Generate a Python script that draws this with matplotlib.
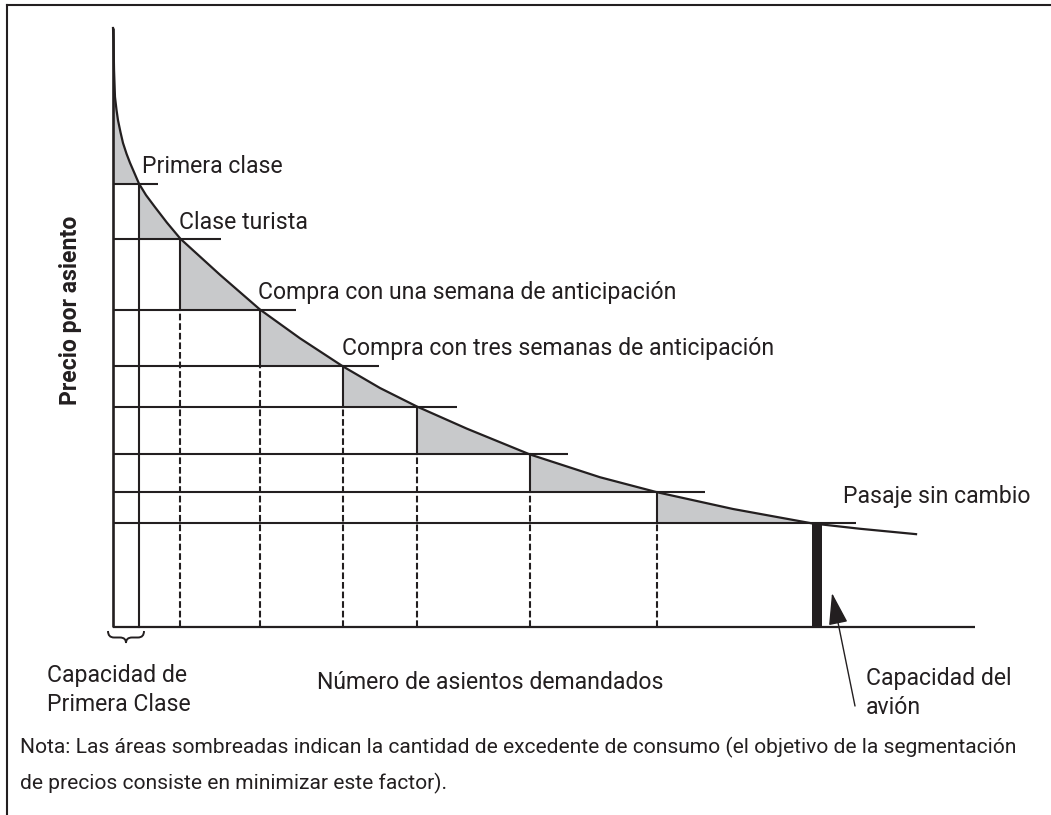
import numpy as np
import matplotlib
matplotlib.use("Agg")
import matplotlib.pyplot as plt
from matplotlib.path import Path
from matplotlib.patches import PathPatch
from matplotlib.lines import Line2D

# ---------------- data (quantity 0-100, price 0-100) ----------------
curve_q = [0.00, 0.06, 0.12, 0.23, 0.41, 0.58, 0.87, 1.16, 1.57, 1.97, 3.02,
           3.83, 4.87, 6.26, 7.83, 12.41, 17.05, 21.69, 26.68, 30.97, 35.27,
           41.07, 48.38, 56.50, 63.11, 71.93, 81.09, 86.66, 93.16]
curve_p = [100.0, 98.0, 93.0, 88.5, 86.3, 84.6, 82.6, 80.8, 79.0, 77.5, 74.0,
           72.1, 70.1, 67.5, 64.8, 58.8, 53.0, 48.2, 43.5, 39.9, 36.8,
           33.1, 28.8, 25.0, 22.5, 19.7, 17.3, 16.4, 15.5]

segment_names = ["Primera clase", "Clase turista",
                 "Compra con una semana de anticipación",
                 "Compra con tres semanas de anticipación",
                 "", "", "", "Pasaje sin cambio"]
break_q = [3.02, 7.83, 17.05, 26.68, 35.27, 48.38, 63.11, 81.09]
price_levels = [74.0, 64.8, 53.0, 43.5, 36.8, 28.8, 22.5, 17.3]
level_line_end_q = [5.22, 12.53, 21.23, 30.86, 39.91, 52.78, 68.68, 86.19]
q_axis_max = 100
p_axis_max = 100
capacity_bar_width = 1.2

x_label = "Número de asientos demandados"
y_label = "Precio por asiento"
first_class_label = ["Capacidad de", "Primera Clase"]
plane_label = ["Capacidad del", "avión"]
note = ["Nota: Las áreas sombreadas indican la cantidad de excedente de consumo (el objetivo de la segmentación",
        "de precios consiste en minimizar este factor)."]

# ---------------- style ----------------
INK = "#231f20"
SHADE = "#c8c9cb"
FONT = "Roboto"
FS = 16.6
FS_NOTE = 15.1
plt.rcParams['font.family'] = [FONT, 'DejaVu Sans']

W, H = 1051, 815
X0, Y0 = 113, 627          # pixel position of origin
SX, SY = 8.62, 5.99        # pixels per data unit

fig = plt.figure(figsize=(W / 100, H / 100), dpi=100)
ax = fig.add_axes([0, 0, 1, 1])
ax.set_xlim(-X0 / SX, (W - X0) / SX)
ax.set_ylim((Y0 - H) / SY, Y0 / SY)
ax.axis('off')


def X(px):
    return (px - X0) / SX


def Y(py):
    return (Y0 - py) / SY


cq = np.array(curve_q)
cp = np.array(curve_p)


def curve_at(q):
    return float(np.interp(q, cq, cp))


# shaded consumer-surplus areas
for i in range(len(break_q)):
    q0 = 0.0 if i == 0 else break_q[i - 1]
    q1 = break_q[i]
    inner = (cq > q0) & (cq < q1)
    xs = [q0] + list(cq[inner]) + [q1, q1, q0]
    ys = [curve_at(q0)] + list(cp[inner]) + [curve_at(q1), price_levels[i], price_levels[i]]
    ax.fill(xs, ys, color=SHADE, lw=0, zorder=1)

LW = 1.5
# horizontal price lines
for lev, end in zip(price_levels, level_line_end_q):
    ax.plot([0, end], [lev, lev], color=INK, lw=LW, solid_capstyle='butt', zorder=3)

# vertical lines at the break points
for i in range(len(break_q) - 1):
    q = break_q[i]
    if i == 0:
        ax.plot([q, q], [0, price_levels[i]], color=INK, lw=LW, zorder=3)
    else:
        ax.plot([q, q], [price_levels[i + 1], price_levels[i]], color=INK, lw=LW, zorder=3)
        ax.plot([q, q], [0, price_levels[i + 1]], color=INK, lw=LW,
                linestyle=(0, (3.2, 1.4)), zorder=3)

# plane capacity bar
ax.bar(break_q[-1], price_levels[-1], width=capacity_bar_width, align='edge',
       color=INK, lw=0, zorder=3)

# axes
ax.plot([0, 0], [0, p_axis_max], color=INK, lw=1.9, zorder=4, solid_capstyle='butt')
ax.plot([0, q_axis_max], [0, 0], color=INK, lw=1.6, zorder=4, solid_capstyle='butt')

# demand curve
ax.plot(cq, cp, color=INK, lw=1.6, zorder=5, solid_joinstyle='round')

# segment labels
offsets = {0: (3, 11), 1: (-1.5, 10), 2: (-2, 10.5), 3: (-1, 11.5), 7: (31, 20.5)}
for i, name in enumerate(segment_names):
    if not name:
        continue
    dx, dy = offsets[i]
    ax.annotate(name, xy=(break_q[i], price_levels[i]),
                xytext=(dx * 0.72, dy * 0.72), textcoords='offset points',
                ha='left', va='baseline', fontsize=FS, color=INK)

# brace under first-class capacity
b0, b1 = X(108), X(144)
bm = (b0 + b1) / 2
ytop, ymid, ytip = Y(631), Y(637.5), Y(643)
dxr = X(114) - X(108)
verts = [(b0, ytop), (b0, ymid), (b0 + dxr, ymid),
         (bm - dxr, ymid), (bm, ymid), (bm, ytip),
         (bm, ymid), (bm + dxr, ymid),
         (b1 - dxr, ymid), (b1, ymid), (b1, ytop)]
codes = [Path.MOVETO, Path.CURVE3, Path.CURVE3,
         Path.LINETO, Path.CURVE3, Path.CURVE3,
         Path.CURVE3, Path.CURVE3,
         Path.LINETO, Path.CURVE3, Path.CURVE3]
ax.add_patch(PathPatch(Path(verts, codes), fill=False, edgecolor=INK, lw=1.4, zorder=4))


def lines_text(lines, left_px, first_baseline_px, step_px, fs):
    for k, s in enumerate(lines):
        ax.text(X(left_px), Y(first_baseline_px + k * step_px), s, ha='left',
                va='baseline', fontsize=fs, color=INK)


# axis texts
ax.text(X(70), Y(310), y_label, rotation=90, ha='center', va='center',
        fontsize=FS, fontweight='bold', color=INK)
ax.text(X(317), Y(689), x_label, ha='left', va='baseline', fontsize=FS, color=INK)
lines_text(first_class_label, 47, 682, 29, FS)
lines_text(plane_label, 866, 685, 29, FS)
lines_text(note, 20, 753, 36, FS_NOTE)

# arrow to plane capacity
ax.annotate('', xy=(X(832), Y(593)), xytext=(X(855), Y(706)),
            arrowprops=dict(arrowstyle='-|>,head_length=1.0,head_width=0.3',
                            color=INK, lw=1.0, mutation_scale=20, shrinkA=0, shrinkB=0))

# frame (top and left)
fig.add_artist(Line2D([7 / W, 1], [1 - 5 / H, 1 - 5 / H], transform=fig.transFigure,
                      color=INK, lw=1.5))
fig.add_artist(Line2D([7 / W, 7 / W], [0, 1 - 5 / H], transform=fig.transFigure,
                      color=INK, lw=1.5))

fig.savefig("out.png", dpi=100)
